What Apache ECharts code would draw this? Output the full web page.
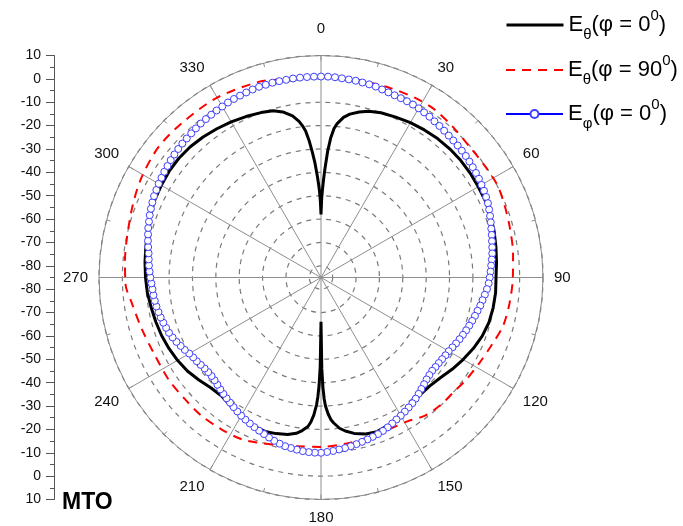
<!DOCTYPE html>
<html><head><meta charset="utf-8">
<script src="https://cdn.jsdelivr.net/npm/echarts@6/dist/echarts.min.js"></script>
<style>html,body{margin:0;padding:0;background:#fff}#c{width:683px;height:526px}</style>
</head><body><div id="c"></div>
<script>
// ---- data (dB values, angles in degrees, clockwise from top) ----
const seriesNames = ['Eθ(φ = 0°)', 'Eθ(φ = 90°)', 'Eφ(φ = 0°)'];
const legendLabels = [
  '{m|E}{s|θ}{m|(φ = 0}{p|0}{m|)}',
  '{m|E}{s|θ}{m|(φ = 90}{p|0}{m|)}',
  '{m|E}{s|φ}{m|(φ = 0}{p|0}{m|)}'
];
const radialMin = -85, radialMax = 10;

const blackAngles = [0,0.5,1,1.5,2,3,4,5,6,8,10,13,16,20,25,30,35,40,45,50,55,60,65,70,75,80,85,90,
  95,100,105,110,115,120,125,130,135,140,145,150,155,160,164,168,171,173,175,176,177,178,178.5,179,179.5,180,
  180.5,181,181.5,182,183,184,185,187,189,192,196,200,205,210,215,220,225,230,235,240,245,250,255,260,265,270,
  275,280,285,290,295,300,305,310,315,320,325,330,335,340,344,347,350,352,353,354,355,356,357,358,358.5,359,359.5,360];
const blackValues = [-58,-51,-47,-43,-39,-31,-25,-21,-18.8,-15.8,-14,-12.3,-11,-10,-9.3,-8.5,-7.9,-7.4,-7.1,-7.0,-7.1,-7.3,-7.4,-7.8,-8.3,-9.0,-9.6,-10.1,
  -10.0,-10.2,-10.6,-11.6,-13.1,-14.8,-16.5,-18.3,-19.3,-19.3,-18.4,-17.0,-15.6,-14.8,-15.3,-16.8,-18.5,-20,-22.5,-24,-26.5,-30,-33,-38,-46,-66,
  -47,-39,-34,-30.5,-26,-23,-21,-19,-17.5,-16.3,-15.5,-14.9,-15.2,-16.3,-17.8,-18.8,-18.3,-16.8,-15.2,-14.1,-13.2,-12.4,-11.8,-11.2,-10.4,-9.9,
  -9.4,-8.9,-8.2,-7.2,-6.5,-6.1,-5.7,-5.6,-5.9,-6.5,-7.3,-8.1,-9.0,-9.9,-10.8,-12.3,-14.8,-17.5,-19.5,-22,-26,-31,-36,-42,-45,-48,-52,-58];

const redAngles = [0,10,20,28,34,41,49,55,62,68,75,83,90,98,105,111,118,125,131,137,143,149,155,162,170,180,
  188,195,201,206,213,221,228,236,245,254,262,268,275,282,291,299,309,319,330,342,347,353,360];
const redValues = [0.8,1.0,1.3,1.8,1.8,0.7,-0.3,-0.2,0.2,-0.5,-1.4,-2.2,-2.9,-3.6,-4.4,-6.3,-7.9,-9.0,-10.0,-10.2,-11.0,-13.2,-13.8,-13.8,-13.2,-12.5,
  -12.1,-10.8,-9.3,-7.9,-7.3,-6.8,-6.9,-6.5,-6.5,-5.2,-3.4,-1.3,-0.8,-0.2,1.3,2.9,4.2,3.9,3.9,2.9,1.9,1.2,0.8];

const blueAngles = [0,2,4,6,8,10,12,14,16,18,20,22,24,26,28,30,32,34,36,38,40,42,44,46,48,50,52,54,56,58,
  60,62,64,66,68,70,72,74,76,78,80,82,84,86,88,90,92,94,96,98,100,102,104,106,108,110,112,114,116,118,
  120,122,124,126,128,130,132,134,136,138,140,142,144,146,148,150,152,154,156,158,160,162,164,166,168,170,172,174,176,178,
  180,182,184,186,188,190,192,194,196,198,200,202,204,206,208,210,212,214,216,218,220,222,224,226,228,230,232,234,236,238,
  240,242,244,246,248,250,252,254,256,258,260,262,264,266,268,270,272,274,276,278,280,282,284,286,288,290,292,294,296,298,
  300,302,304,306,308,310,312,314,316,318,320,322,324,326,328,330,332,334,336,338,340,342,344,346,348,350,352,354,356,358];
const blueValues = [1.0,1.0,0.9,0.7,0.6,0.5,0.3,0.2,0.0,-0.4,
  -0.7,-0.9,-1.0,-1.1,-1.2,-1.4,-1.7,-2.0,-2.4,-2.7,
  -3.0,-3.3,-3.5,-3.7,-3.9,-4.1,-4.4,-4.7,-5.0,-5.3,
  -5.7,-6.0,-6.4,-6.8,-7.4,-8.0,-8.6,-9.2,-9.7,-10.2,
  -10.6,-11.0,-11.5,-12.0,-12.4,-12.8,-13.2,-13.8,-14.5,-15.2,
  -15.8,-16.5,-17.1,-17.7,-18.3,-18.9,-19.5,-20.1,-20.7,-21.3,
  -21.9,-22.2,-22.5,-22.7,-22.8,-22.9,-22.6,-22.2,-21.5,-20.8,
  -20.0,-19.2,-18.5,-17.9,-17.3,-16.7,-16.2,-15.5,-14.8,-14.2,
  -13.7,-13.3,-12.9,-12.5,-12.1,-11.7,-11.3,-11.0,-10.6,-10.3,
  -10.0,-10.0,-10.1,-10.3,-10.6,-10.9,-11.2,-11.7,-12.3,-13.0,
  -13.7,-14.3,-14.9,-15.5,-16.1,-16.7,-17.4,-18.1,-18.8,-19.4,
  -20.0,-20.6,-21.2,-21.7,-22.0,-22.0,-21.8,-21.4,-20.9,-20.5,
  -19.9,-19.0,-18.2,-17.3,-16.5,-15.8,-15.3,-14.8,-14.3,-13.9,
  -13.5,-13.2,-12.9,-12.7,-12.4,-12.0,-11.6,-11.2,-10.9,-10.5,
  -9.9,-9.3,-8.7,-8.1,-7.6,-7.0,-6.5,-6.0,-5.5,-5.2,
  -4.8,-4.5,-4.1,-3.8,-3.4,-3.1,-2.8,-2.5,-2.3,-2.0,
  -1.7,-1.4,-1.2,-1.0,-0.7,-0.5,-0.2,0.0,0.2,0.4,
  0.6,0.8,0.8,0.9,0.9,0.9,1.0,1.0,1.0,1.0];

// ---- build ----
const FONT = '"Liberation Sans", Arial, sans-serif';
const pairs = (vals, angs) => vals.map((v, i) => [v, angs[i]]);
const center = [321, 277.5], R = 222;

const richLegend = {
  m: {fontSize: 22, fontFamily: FONT, color: '#000', lineHeight: 34},
  s: {fontSize: 15, fontFamily: FONT, color: '#000', lineHeight: 14, verticalAlign: 'bottom'},
  p: {fontSize: 15, fontFamily: FONT, color: '#000', lineHeight: 30, verticalAlign: 'top'}
};
const legendTops = [8, 53, 97];
const legendShowSymbol = [false, false, true];
const legendLineWidth = [3, 2, 2];

const option = {
  animation: false,
  backgroundColor: '#fff',
  polar: {center: center, radius: R},
  angleAxis: {
    type: 'value', min: 0, max: 360, interval: 30, startAngle: 90, clockwise: true,
    axisLine: {lineStyle: {color: '#8a8a8a', width: 1}},
    axisTick: {show: true, inside: true, length: 5, lineStyle: {color: '#8a8a8a'}},
    minorTick: {show: true, splitNumber: 2, length: 4, lineStyle: {color: '#8a8a8a'}},
    splitLine: {show: true, lineStyle: {color: '#8f8f8f', width: 1}},
    axisLabel: {
      margin: 11, fontSize: 15, color: '#111', fontFamily: FONT,
      formatter: v => (v === 0 ? '{t|0}' : (v >= 360 ? '' : String(v))),
      rich: {t: {fontSize: 15, color: '#111', fontFamily: FONT, padding: [0, 0, 8, 0]}}
    }
  },
  radiusAxis: {
    type: 'value', min: radialMin, max: radialMax, interval: 5,
    axisLine: {show: false}, axisTick: {show: false}, axisLabel: {show: false},
    splitLine: {show: true, lineStyle: {color: ['rgba(0,0,0,0)', '#7a7a7a'], type: [5, 5], width: 1.2}}
  },
  grid: {left: 54, top: 55.5, height: 444, width: 20, show: false},
  xAxis: {type: 'value', min: 0, max: 1, show: false},
  yAxis: {
    type: 'value', min: -90, max: 100, interval: 10, position: 'left',
    axisLine: {show: true, onZero: false, lineStyle: {color: '#555', width: 1}},
    axisTick: {show: true, length: 8, lineStyle: {color: '#555'}},
    minorTick: {show: true, splitNumber: 2, length: 4, lineStyle: {color: '#555'}},
    splitLine: {show: false},
    axisLabel: {
      margin: 13, fontSize: 14, color: '#111', fontFamily: FONT,
      formatter: u => String(Math.abs(u - 5) + radialMin)
    }
  },
  legend: seriesNames.map((n, i) => ({
    data: [{name: n}], left: 505, top: legendTops[i], orient: 'horizontal',
    itemWidth: 57, itemHeight: 10, padding: 0, selectedMode: false,
    itemStyle: legendShowSymbol[i] ? {} : {opacity: 0, borderWidth: 0},
    lineStyle: {width: legendLineWidth[i]},
    formatter: () => legendLabels[i],
    textStyle: {rich: richLegend, fontFamily: FONT, fontSize: 22, color: '#000'}
  })),
  graphic: [{
    type: 'text', left: 62, top: 491,
    style: {text: 'MTO', font: 'bold 23px "Liberation Sans", Arial, sans-serif', fill: '#000'}
  }],
  series: [
    {
      name: seriesNames[0], type: 'line', coordinateSystem: 'polar',
      data: pairs(blackValues, blackAngles), symbol: 'none', showSymbol: false,
      lineStyle: {color: '#000', width: 3}, itemStyle: {color: '#000'}, z: 3
    },
    {
      name: seriesNames[1], type: 'line', coordinateSystem: 'polar',
      data: pairs(redValues, redAngles), symbol: 'none', showSymbol: false, smooth: 0.3,
      lineStyle: {color: '#ff0000', width: 2, type: [9, 7]}, itemStyle: {color: '#ff0000'}, z: 4
    },
    {
      name: seriesNames[2], type: 'line', coordinateSystem: 'polar',
      data: pairs(blueValues, blueAngles), symbol: 'circle', symbolSize: 7, showSymbol: true,
      lineStyle: {color: '#0000ff', width: 1.5},
      itemStyle: {color: '#ffffff', borderColor: '#3f3fff', borderWidth: 1}, z: 5
    }
  ]
};
const chart = echarts.init(document.getElementById('c'), null, {renderer: 'canvas'});
chart.setOption(option);
</script></body></html>
